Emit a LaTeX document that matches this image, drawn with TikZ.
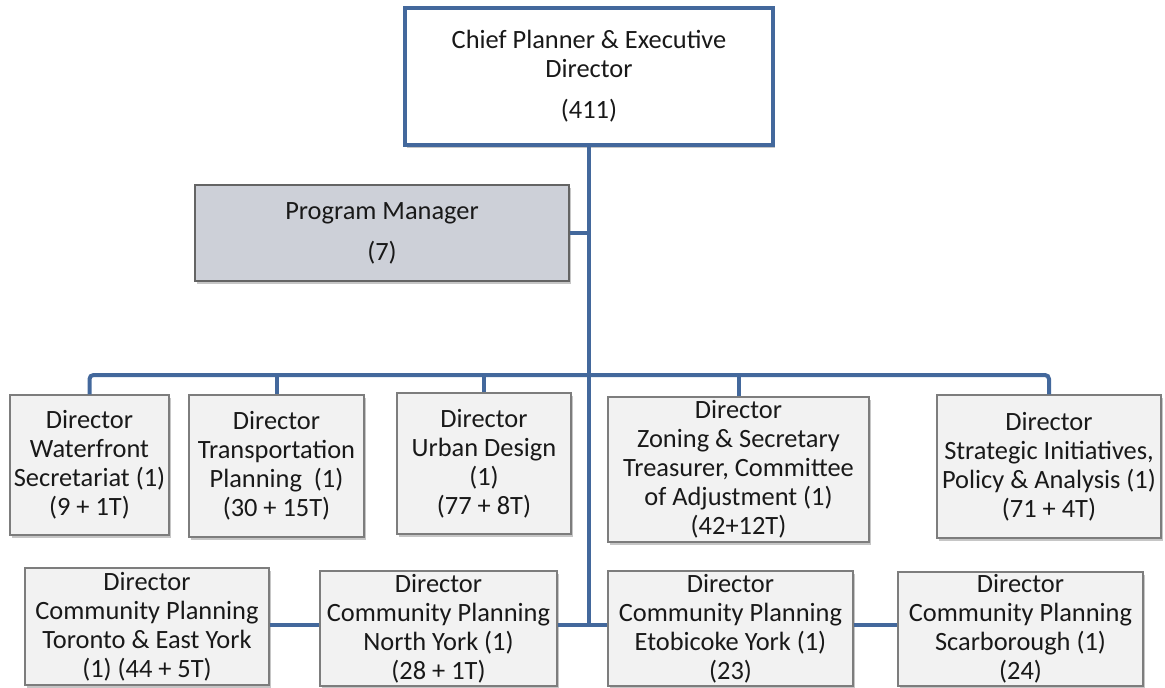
\documentclass[tikz,border=0pt]{standalone}
\usepackage{fontspec}
\setmainfont{Carlito}
\usetikzlibrary{shadows}
\definecolor{linkblue}{RGB}{67,104,156}
\definecolor{boxgray}{RGB}{242,242,242}
\definecolor{pmgray}{RGB}{205,208,216}
\definecolor{edgegray}{RGB}{125,125,125}
\definecolor{txt}{RGB}{25,25,25}
\begin{document}
\begin{tikzpicture}[x=0.75pt,y=-0.75pt,
  every node/.style={font=\fontsize{19.8pt}{21.75pt}\selectfont, text=txt, align=center, inner sep=0pt},
  shad/.style={drop shadow={opacity=0.45, shadow xshift=1.5pt, shadow yshift=-2.5pt}},
  dirbox/.style={draw=edgegray, line width=1.1pt, fill=boxgray, shad},
  topbox/.style={draw=linkblue, line width=2.3pt, fill=white, shad},
  pmbox/.style={draw=edgegray!80!black, line width=1.1pt, fill=pmgray, shad},
  link/.style={draw=linkblue, line width=3pt}]
\useasboundingbox (0,0) rectangle (1165,688);
\coordinate (bus) at (589,375);
\coordinate (low) at (589,625);
% nodes
\node[topbox, minimum width=368*0.75pt, minimum height=137*0.75pt] (top) at (589,76.5) {Chief Planner \& Executive\\Director\\[9pt](411)};
\node[pmbox, minimum width=374*0.75pt, minimum height=96*0.75pt] (pm) at (382,233) {Program Manager\\[9pt](7)};
\node[dirbox, minimum width=159*0.75pt, minimum height=140*0.75pt] (wf) at (89.5,465) {Director\\Waterfront\\Secretariat (1)\\(9 + 1T)};
\node[dirbox, minimum width=175*0.75pt, minimum height=142*0.75pt] (tp) at (276.5,466) {Director\\Transportation\\Planning\ \ (1)\\(30 + 15T)};
\node[dirbox, minimum width=174*0.75pt, minimum height=141*0.75pt] (ud) at (484,463.5) {Director\\Urban Design\\(1)\\(77 + 8T)};
\node[dirbox, minimum width=261*0.75pt, minimum height=145*0.75pt] (zn) at (738.5,469.5) {Director\\Zoning \& Secretary\\Treasurer, Committee\\of Adjustment (1)\\(42+12T)};
\node[dirbox, minimum width=224*0.75pt, minimum height=143*0.75pt] (sp) at (1049,466.5) {Director\\Strategic Initiatives,\\Policy \& Analysis (1)\\(71 + 4T)};
\node[dirbox, minimum width=244*0.75pt, minimum height=117*0.75pt] (to) at (147,626.5) {Director\\Community Planning\\Toronto \& East York\\(1) (44 + 5T)};
\node[dirbox, minimum width=237*0.75pt, minimum height=115*0.75pt] (ny) at (438.5,628.5) {Director\\Community Planning\\North York (1)\\(28 + 1T)};
\node[dirbox, minimum width=245*0.75pt, minimum height=115*0.75pt] (et) at (730.5,628.5) {Director\\Community Planning\\Etobicoke York (1)\\(23)};
\node[dirbox, minimum width=245*0.75pt, minimum height=114*0.75pt] (sc) at (1020.5,629) {Director\\Community Planning\\Scarborough (1)\\(24)};
% connectors
\draw[link] (top.south) -- (low) -- (et.west |- low);
\draw[link] (pm.east) -- (pm.east -| top.south);
\draw[link, rounded corners=3pt] (wf.north) |- (bus) -| (sp.north);
\draw[link] (tp.north) -- (tp.north |- bus);
\draw[link] (ud.north) -- (ud.north |- bus);
\draw[link] (zn.north) -- (zn.north |- bus);
\draw[link] (ny.east |- low) -- (low);
\draw[link] (to.east |- low) -- (ny.west |- low);
\draw[link] (et.east |- low) -- (sc.west |- low);
\end{tikzpicture}
\end{document}
